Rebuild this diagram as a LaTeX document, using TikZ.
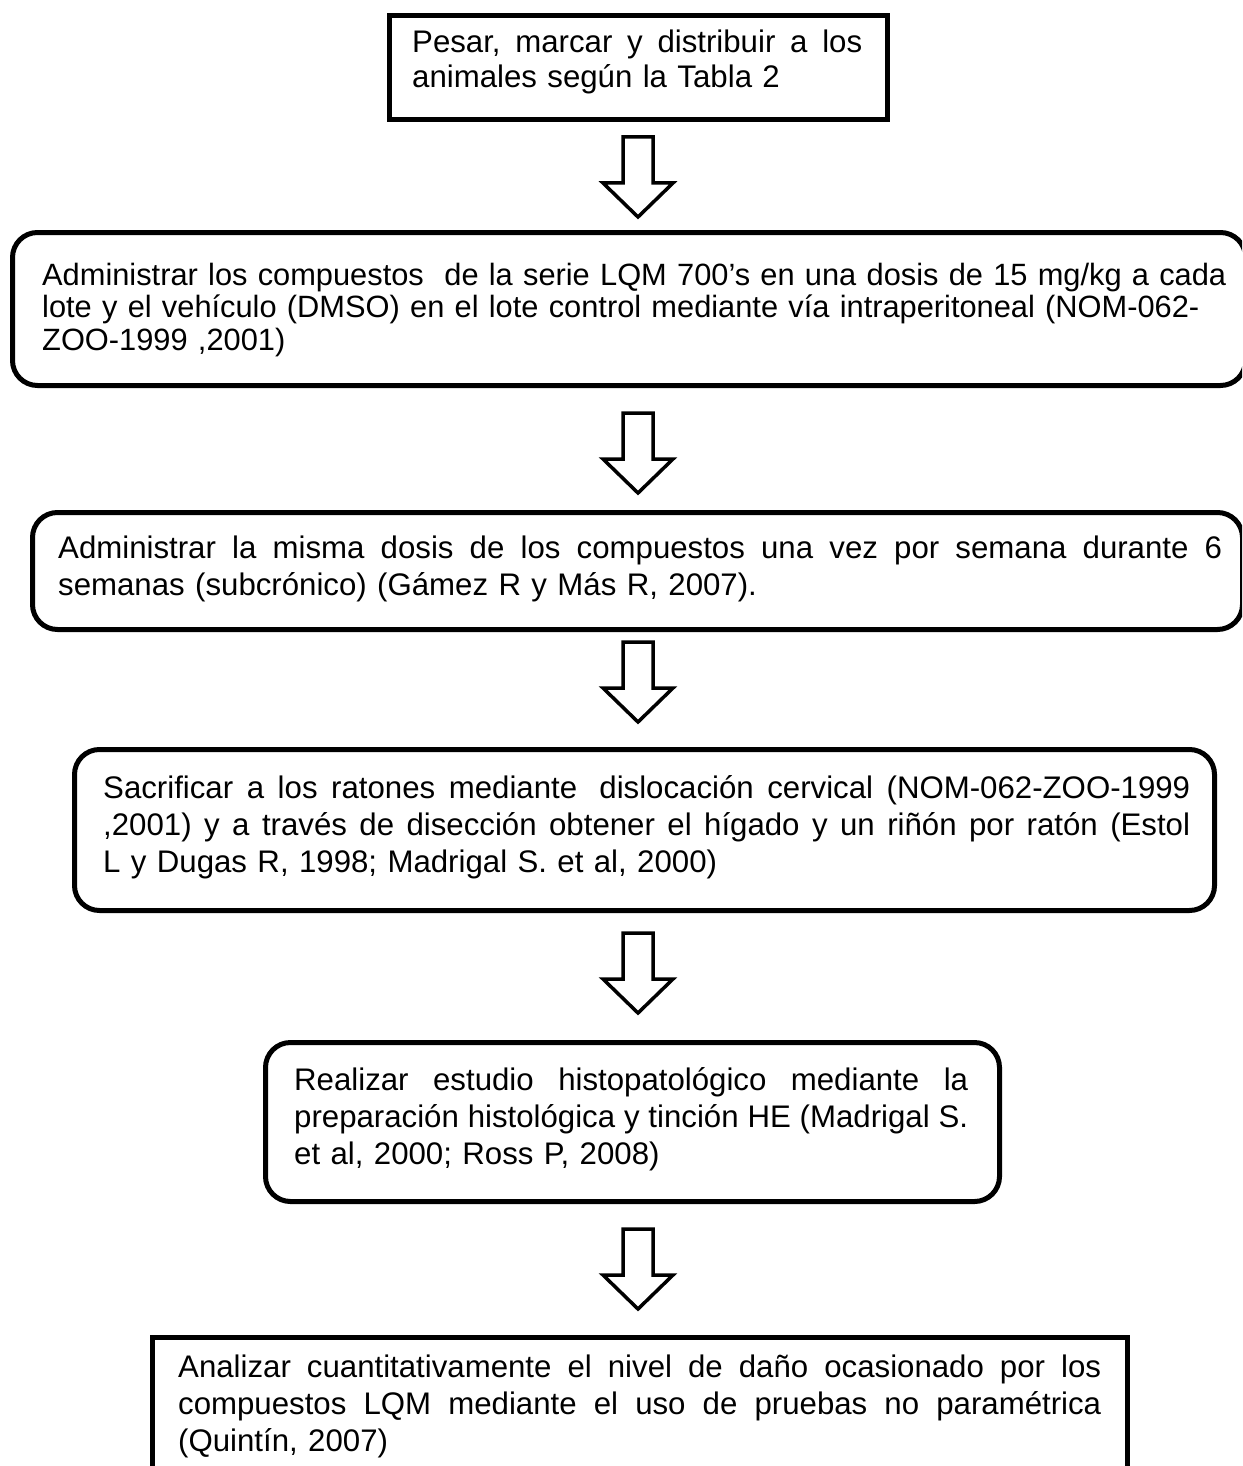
\documentclass[tikz,border=0pt]{standalone}
\usepackage{fontspec}
\setmainfont{Liberation Sans}
\usetikzlibrary{calc}
\tikzset{
  sqbox/.style={draw, line width=5pt, inner sep=0pt, anchor=north west},
  rbox/.style={sqbox, rounded corners=25pt},
  txt/.style={inner sep=0pt, anchor=base west, align=left, font=\fontsize{31.2}{37}\selectfont},
  blockarrow/.style={draw, line width=3.5pt, fill=white, line join=miter},
}
\newcommand\jline[2]{\makebox[#1][s]{\frenchspacing\spaceskip=0.278em plus 1fil\relax #2}}
\begin{document}
\begin{tikzpicture}[x=1pt, y=-1pt]
\path[use as bounding box, fill=white] (0,0) rectangle (1242,1466);
\clip (0,0) rectangle (1242,1466);

% boxes
\node[sqbox, minimum width=498pt, minimum height=104pt] (b1) at (387,13) {};
\node[rbox, minimum width=1233pt, minimum height=153pt] (b2) at (10,230) {};
\node[rbox, minimum width=1210pt, minimum height=117pt] (b3) at (30,510) {};
\node[rbox, minimum width=1140pt, minimum height=161pt] (b4) at (72,747) {};
\node[rbox, minimum width=734pt, minimum height=159pt] (b5) at (263,1040) {};
\node[sqbox, minimum width=975pt, minimum height=175pt] (b6) at (150,1335) {};

% texts
\node[txt, text width=452pt, font=\fontsize{31.2}{35}\selectfont] (t1) at (412,53)
  {\jline{450pt}{Pesar, marcar y distribuir a los}\\animales según la Tabla 2};
\node[txt, text width=1240pt, font=\fontsize{30.8}{32.5}\selectfont] (t2) at (42,285)
  {\mbox{Administrar los compuestos~ de la serie LQM 700’s en una dosis de 15 mg/kg a cada}\\
   \mbox{lote y el vehículo (DMSO) en el lote control mediante vía intraperitoneal (NOM-062-}\\
   ZOO-1999 ,2001)};
\node[txt, text width=1166pt] (t3) at (58,558)
  {\jline{1164pt}{Administrar la misma dosis de los compuestos una vez por semana durante 6}\\
   semanas (subcrónico) (Gámez R y Más R, 2007).};
\node[txt, text width=1089pt] (t4) at (103,798)
  {\jline{1087pt}{Sacrificar a los ratones mediante\hspace{0.278em} dislocación cervical (NOM-062-ZOO-1999}\\
   \jline{1087pt}{,2001) y a través de disección obtener el hígado y un riñón por ratón (Estol}\\
   L y Dugas R, 1998; Madrigal S. et al, 2000)};
\node[txt, text width=676pt] (t5) at (294,1090)
  {\jline{674pt}{Realizar estudio histopatológico mediante la}\\
   \jline{674pt}{preparación histológica y tinción HE (Madrigal S.}\\
   et al, 2000; Ross P, 2008)};
\node[txt, text width=925pt] (t6) at (178,1377)
  {\jline{923pt}{Analizar cuantitativamente el nivel de daño ocasionado por los}\\
   \jline{923pt}{compuestos LQM mediante el uso de pruebas no paramétrica}\\
   (Quintín, 2007)};

% block arrows
\coordinate (a1) at (638,137);
\coordinate (a2) at (638,413);
\coordinate (a3) at (638,642);
\coordinate (a4) at (638,933);
\coordinate (a5) at (638,1229);
\foreach \a in {a1,a2,a3,a4,a5}{
  \draw[blockarrow] ($(\a)+(-15,0)$) -- ++(30,0) -- ++(0,46) -- ++(20,0)
    -- ++(-35,34) -- ++(-35,-34) -- ++(20,0) -- cycle;
}
\end{tikzpicture}
\end{document}
